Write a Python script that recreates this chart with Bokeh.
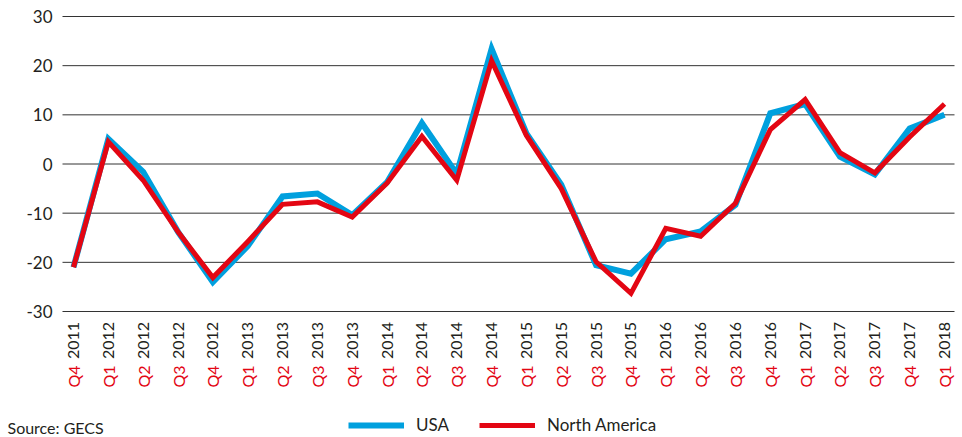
import math
from bokeh.plotting import figure
from bokeh.models import Legend, LegendItem, Label, Range1d
from bokeh.core.properties import value
from bokeh.embed import file_html
from bokeh.resources import INLINE

quarters = ["Q4", "Q1", "Q2", "Q3", "Q4", "Q1", "Q2", "Q3", "Q4", "Q1", "Q2", "Q3", "Q4",
            "Q1", "Q2", "Q3", "Q4", "Q1", "Q2", "Q3", "Q4", "Q1", "Q2", "Q3", "Q4", "Q1"]
years = ["2011", "2012", "2012", "2012", "2012", "2013", "2013", "2013", "2013",
         "2014", "2014", "2014", "2014", "2015", "2015", "2015", "2015",
         "2016", "2016", "2016", "2016", "2017", "2017", "2017", "2017", "2018"]
usa = [-21.0, 5.1, -1.6, -13.8, -24.0, -16.7, -6.6, -6.0, -10.4, -3.7, 8.3, -2.0, 23.4,
       6.2, -4.2, -20.6, -22.3, -15.3, -13.7, -8.3, 10.3, 12.2, 1.5, -2.1, 7.2, 10.0]
north_america = [-21.0, 4.5, -3.3, -13.8, -23.1, -15.8, -8.2, -7.7, -10.8, -3.9, 5.6, -3.3, 21.0,
                 5.8, -5.0, -19.9, -26.3, -13.1, -14.7, -8.0, 7.0, 13.1, 2.3, -1.8, 5.5, 12.2]
y_ticks = [-30, -20, -10, 0, 10, 20, 30]
y_tick_labels = ["-30", "-20", "-10", "0", "10", "20", "30"]
series_names = ["USA", "North America"]
source_text = "Source: GECS"

BLUE = "#00A0DE"
RED = "#E30613"
TXT = "#231F20"
FONT = "Lato"

x = list(range(len(quarters)))

# scale: the 26 quarters span 871px, the -30..30 band spans 295px
PX_X = 871 / 25.0
PX_Y = 295 / 60.0
X_LEFT_GRID = -11 / PX_X            # gridlines start a little left of the first quarter
X_RIGHT_GRID = 25 + 10 / PX_X       # and end a little right of the last one

p = figure(width=962, height=437, output_backend="svg", toolbar_location=None,
           x_range=Range1d(-73 / PX_X, 25 + 18 / PX_X),
           y_range=Range1d(-30 - 126 / PX_Y, 30 + 16 / PX_Y),
           min_border_left=0, min_border_top=0, min_border_right=0, min_border_bottom=0)
p.outline_line_color = None
p.background_fill_color = "white"
p.border_fill_color = "white"
p.xaxis.visible = False
p.yaxis.visible = False
p.xgrid.visible = False
p.ygrid.visible = False

# horizontal gridlines and value labels
p.segment(x0=[X_LEFT_GRID] * len(y_ticks), x1=[X_RIGHT_GRID] * len(y_ticks),
          y0=y_ticks, y1=y_ticks, line_color="#333333", line_width=1)
p.text(x=[X_LEFT_GRID - 10 / PX_X] * len(y_ticks), y=y_ticks, text=y_tick_labels,
       text_align="right", text_baseline="middle", text_font=value(FONT),
       text_font_size="17px", text_color=TXT)

r_usa = p.line(x, usa, line_color=BLUE, line_width=6, line_join="miter")
r_na = p.line(x, north_america, line_color=RED, line_width=5, line_join="miter")

# category labels: year (black) just under the axis, quarter (red) below, both vertical
year_top = -30 - 10.5 / PX_Y
quarter_bottom = -30 - 76 / PX_Y
p.text(x=x, y=[year_top] * len(x), text=years, angle=math.pi / 2,
       text_align="right", text_baseline="middle", text_font=value(FONT),
       text_font_size="16px", text_color=TXT)
p.text(x=x, y=[quarter_bottom] * len(x), text=quarters, angle=math.pi / 2,
       text_align="left", text_baseline="middle", text_font=value(FONT),
       text_font_size="16px", text_color=RED)

legend = Legend(items=[LegendItem(label=series_names[0], renderers=[r_usa]),
                       LegendItem(label=series_names[1], renderers=[r_na])],
                orientation="horizontal", location=(348, 2),
                border_line_color=None, background_fill_alpha=0,
                glyph_width=56, glyph_height=20, label_height=20, label_standoff=12, spacing=30,
                label_text_font=FONT, label_text_font_size="17px", label_text_color=TXT,
                padding=0, margin=0)
p.add_layout(legend, "center")

src = Label(x=7, y=1, x_units="screen", y_units="screen", text=source_text,
            text_font=FONT, text_font_size="16px", text_color=TXT)
p.add_layout(src)

open("out.html", "w").write(file_html(p, INLINE))
